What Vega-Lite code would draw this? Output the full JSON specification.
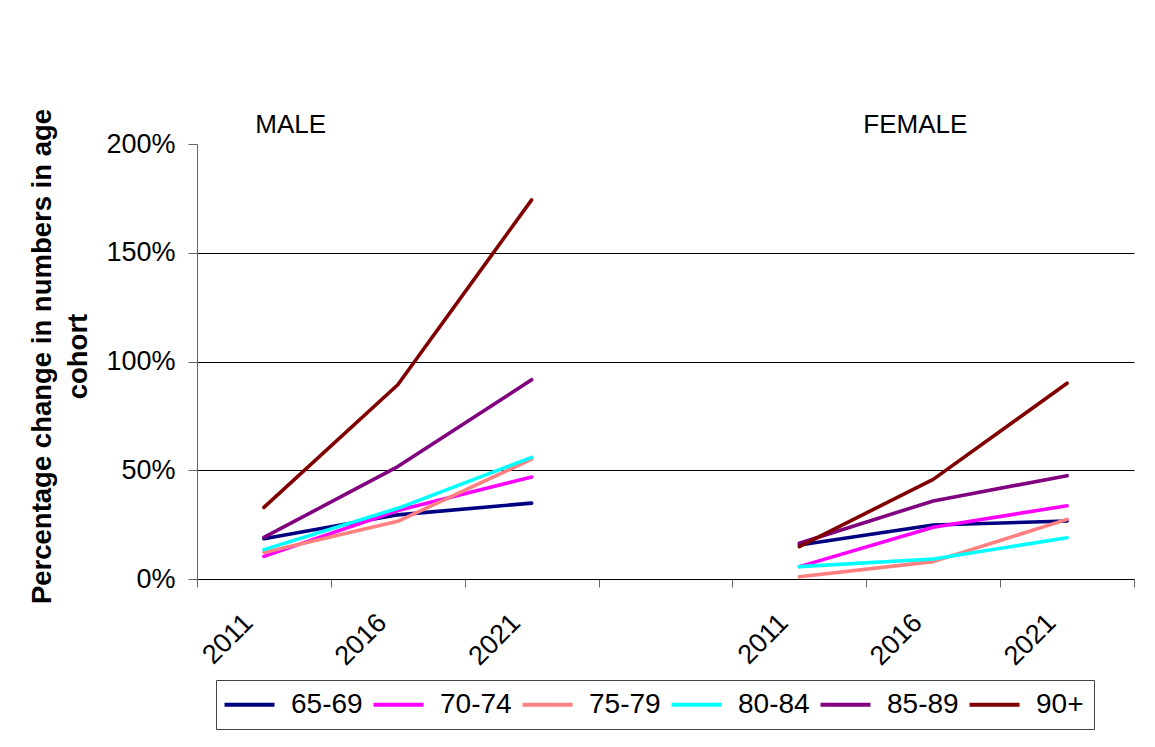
{
  "$schema": "https://vega.github.io/schema/vega-lite/v6.json",
  "autosize": {"type": "none"},
  "padding": {"left": 197, "top": 144, "right": 21, "bottom": 168},
  "width": 937,
  "height": 435,
  "background": "white",
  "config": {
    "font": "Liberation Sans",
    "view": {"stroke": null}
  },
  "datasets": {
    "series": [
      {"sex": "Male", "year": "2011", "period": "M2011", "group": "65-69", "value": 0.185},
      {"sex": "Male", "year": "2016", "period": "M2016", "group": "65-69", "value": 0.295},
      {"sex": "Male", "year": "2021", "period": "M2021", "group": "65-69", "value": 0.349},
      {"sex": "Male", "year": "2011", "period": "M2011", "group": "70-74", "value": 0.104},
      {"sex": "Male", "year": "2016", "period": "M2016", "group": "70-74", "value": 0.315},
      {"sex": "Male", "year": "2021", "period": "M2021", "group": "70-74", "value": 0.469},
      {"sex": "Male", "year": "2011", "period": "M2011", "group": "75-79", "value": 0.122},
      {"sex": "Male", "year": "2016", "period": "M2016", "group": "75-79", "value": 0.265},
      {"sex": "Male", "year": "2021", "period": "M2021", "group": "75-79", "value": 0.551},
      {"sex": "Male", "year": "2011", "period": "M2011", "group": "80-84", "value": 0.135},
      {"sex": "Male", "year": "2016", "period": "M2016", "group": "80-84", "value": 0.325},
      {"sex": "Male", "year": "2021", "period": "M2021", "group": "80-84", "value": 0.559},
      {"sex": "Male", "year": "2011", "period": "M2011", "group": "85-89", "value": 0.191},
      {"sex": "Male", "year": "2016", "period": "M2016", "group": "85-89", "value": 0.517},
      {"sex": "Male", "year": "2021", "period": "M2021", "group": "85-89", "value": 0.916},
      {"sex": "Male", "year": "2011", "period": "M2011", "group": "90+", "value": 0.329},
      {"sex": "Male", "year": "2016", "period": "M2016", "group": "90+", "value": 0.893},
      {"sex": "Male", "year": "2021", "period": "M2021", "group": "90+", "value": 1.743},
      {"sex": "Female", "year": "2011", "period": "F2011", "group": "65-69", "value": 0.156},
      {"sex": "Female", "year": "2016", "period": "F2016", "group": "65-69", "value": 0.248},
      {"sex": "Female", "year": "2021", "period": "F2021", "group": "65-69", "value": 0.267},
      {"sex": "Female", "year": "2011", "period": "F2011", "group": "70-74", "value": 0.057},
      {"sex": "Female", "year": "2016", "period": "F2016", "group": "70-74", "value": 0.238},
      {"sex": "Female", "year": "2021", "period": "F2021", "group": "70-74", "value": 0.337},
      {"sex": "Female", "year": "2011", "period": "F2011", "group": "75-79", "value": 0.010},
      {"sex": "Female", "year": "2016", "period": "F2016", "group": "75-79", "value": 0.080},
      {"sex": "Female", "year": "2021", "period": "F2021", "group": "75-79", "value": 0.274},
      {"sex": "Female", "year": "2011", "period": "F2011", "group": "80-84", "value": 0.057},
      {"sex": "Female", "year": "2016", "period": "F2016", "group": "80-84", "value": 0.092},
      {"sex": "Female", "year": "2021", "period": "F2021", "group": "80-84", "value": 0.190},
      {"sex": "Female", "year": "2011", "period": "F2011", "group": "85-89", "value": 0.164},
      {"sex": "Female", "year": "2016", "period": "F2016", "group": "85-89", "value": 0.359},
      {"sex": "Female", "year": "2021", "period": "F2021", "group": "85-89", "value": 0.475},
      {"sex": "Female", "year": "2011", "period": "F2011", "group": "90+", "value": 0.149},
      {"sex": "Female", "year": "2016", "period": "F2016", "group": "90+", "value": 0.458},
      {"sex": "Female", "year": "2021", "period": "F2021", "group": "90+", "value": 0.900}
    ]
  },
  "layer": [
    {
      "data": {"name": "series"},
      "mark": {"type": "line", "strokeWidth": 3.6, "strokeCap": "round", "strokeJoin": "round"},
      "encoding": {
        "x": {
          "field": "period",
          "type": "ordinal",
          "bandPosition": 0.5,
          "scale": {
            "type": "band",
            "domain": ["M2011", "M2016", "M2021", "gap", "F2011", "F2016", "F2021"],
            "paddingInner": 0,
            "paddingOuter": 0
          },
          "axis": {
            "title": null,
            "labelExpr": "isValid(datum.value) && datum.value != 'gap' ? substring(datum.value, 1) : ''",
            "tickBand": "extent",
            "tickSize": 8,
            "tickColor": "#666666",
            "domainColor": "#000000",
            "domainWidth": 1,
            "labelAngle": -45,
            "labelFontSize": 27,
            "labelColor": "#000000",
            "labelPadding": 22,
            "labelOffset": -25,
            "grid": false
          }
        },
        "y": {
          "field": "value",
          "type": "quantitative",
          "scale": {"domain": [0, 2], "nice": false, "zero": true},
          "axis": {
            "title": ["Percentage change in numbers in age", "cohort"],
            "titleFontSize": 27.5,
            "titleFontWeight": "bold",
            "titleColor": "#000000",
            "titleLineHeight": 36,
            "titlePadding": 13,
            "titleY": 212,
            "values": [0, 0.5, 1, 1.5, 2],
            "format": ".0%",
            "labelFontSize": 27,
            "labelColor": "#000000",
            "labelPadding": 13,
            "tickSize": 9,
            "tickColor": "#666666",
            "domainColor": "#666666",
            "grid": true,
            "gridColor": "#000000",
            "gridWidth": 1,
            "gridOpacity": {"condition": {"test": "datum.value >= 2 || datum.value <= 0", "value": 0}, "value": 1}
          }
        },
        "color": {
          "field": "group",
          "type": "nominal",
          "scale": {
            "domain": ["65-69", "70-74", "75-79", "80-84", "85-89", "90+"],
            "range": ["#000080", "#FF00FF", "#FF8080", "#00FFFF", "#800080", "#800000"]
          },
          "legend": {
            "title": null,
            "orient": "none",
            "legendX": 19,
            "legendY": 536,
            "direction": "horizontal",
            "columns": 6,
            "symbolType": "M-2,0H2",
            "symbolSize": 625,
            "symbolStrokeWidth": 4,
            "symbolOffset": 9,
            "labelFontSize": 28,
            "labelColor": "#000000",
            "labelOffset": 27,
            "columnPadding": 2,
            "padding": 10,
            "strokeColor": "#444444",
            "fillColor": "white"
          }
        },
        "detail": {"field": "sex"}
      }
    },
    {
      "data": {"values": [{"label": "MALE", "period": "M2011"}]},
      "mark": {"type": "text", "fontSize": 26, "baseline": "alphabetic", "align": "center", "dy": -11, "color": "#000000"},
      "encoding": {
        "x": {"field": "period", "type": "ordinal", "bandPosition": 0.7},
        "y": {"datum": 2},
        "text": {"field": "label"}
      }
    },
    {
      "data": {"values": [{"label": "FEMALE", "period": "F2016"}]},
      "mark": {"type": "text", "fontSize": 26, "baseline": "alphabetic", "align": "center", "dy": -11, "color": "#000000"},
      "encoding": {
        "x": {"field": "period", "type": "ordinal", "bandPosition": 0.366},
        "y": {"datum": 2},
        "text": {"field": "label"}
      }
    }
  ]
}
